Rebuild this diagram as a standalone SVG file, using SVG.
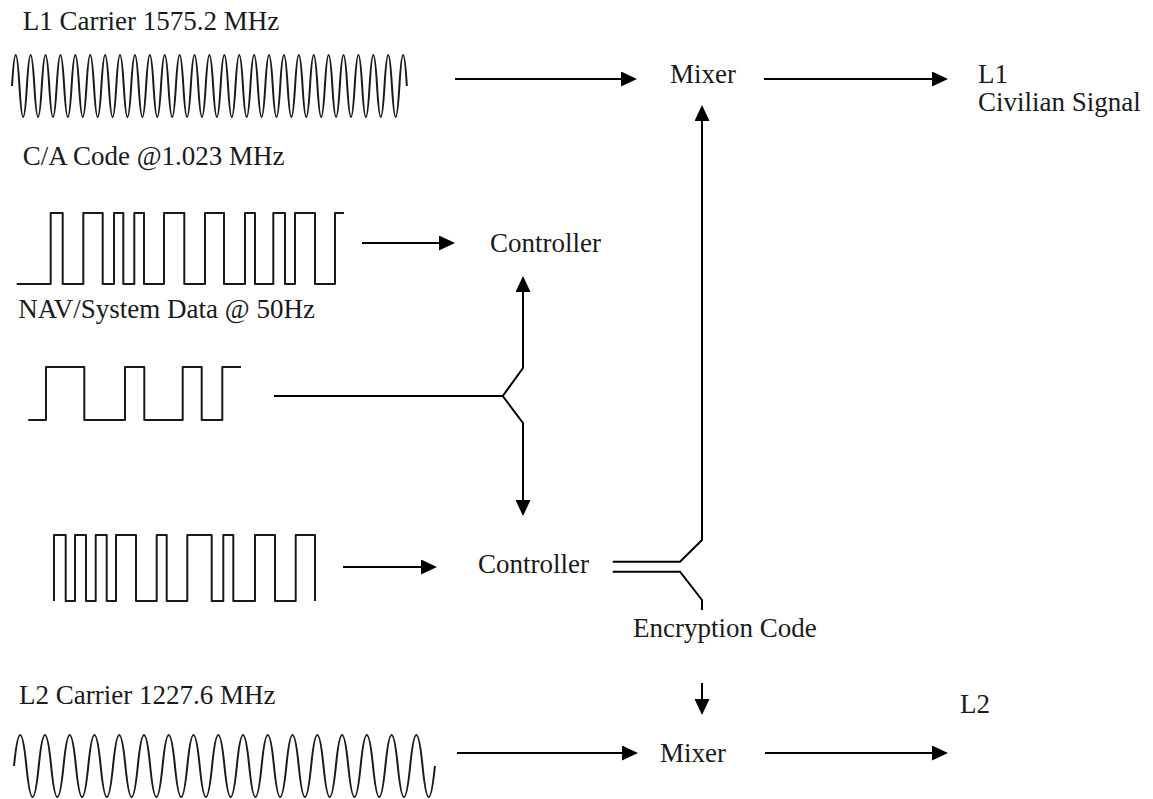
<svg xmlns="http://www.w3.org/2000/svg" width="1153" height="799" viewBox="0 0 1153 799">
<defs>
<style>
text{font-family:'Liberation Serif','Times New Roman','DejaVu Serif',serif;font-size:27px;fill:#1a1a1a}
.w{fill:none;stroke:#1a1a1a;stroke-width:2;stroke-linejoin:round}
.c{fill:none;stroke:#000;stroke-width:2}
.a{marker-end:url(#ah)}
</style>
<marker id="ah" markerUnits="userSpaceOnUse" markerWidth="17" markerHeight="16" refX="4" refY="7.5" orient="auto">
<path d="M0,0 L16,7.5 L0,15 z" fill="#000"/>
</marker>
</defs>
<rect width="1153" height="799" fill="#fff"/>

<g id="l1carrier" font-family="Liberation Serif, serif">
<text x="22.7" y="30">L1 Carrier 1575.2 MHz</text>
<path class="w" d="M12,86 q3.725,-62 7.45,0 t7.45,0 t7.45,0 t7.45,0 t7.45,0 t7.45,0 t7.45,0 t7.45,0 t7.45,0 t7.45,0 t7.45,0 t7.45,0 t7.45,0 t7.45,0 t7.45,0 t7.45,0 t7.45,0 t7.45,0 t7.45,0 t7.45,0 t7.45,0 t7.45,0 t7.45,0 t7.45,0 t7.45,0 t7.45,0 t7.45,0 t7.45,0 t7.45,0 t7.45,0 t7.45,0 t7.45,0 t7.45,0 t7.45,0 t7.45,0 t7.45,0 t7.45,0 t7.45,0 t7.45,0 t7.45,0 t7.45,0 t7.45,0 t7.45,0 t7.45,0 t7.45,0 t7.45,0 t7.45,0 t7.45,0 t7.45,0 t7.45,0 t7.45,0 t7.45,0 t7.45,0"/>
</g>

<g id="cacode">
<text x="22.7" y="165">C/A Code @1.023 MHz</text>
<path class="w" d="M16.7,284 H50.7 V213 H62.7 V284 H83.3 V213 H102.7 V284 H114 V213 H123.3 V284 H134.3 V213 H144 V284 H164 V213 H184.3 V284 H205 V213 H224 V284 H245 V213 H255 V284 H273.3 V213 H285 V284 H295 V213 H315 V284 H335 V213 H344"/>
</g>

<g id="navdata">
<text x="18.3" y="318">NAV/System Data @ 50Hz</text>
<path class="w" d="M28.3,420 H46 V367 H84.3 V420 H125 V367 H144.3 V420 H182.7 V367 H201.7 V420 H222.3 V367 H241"/>
</g>

<g id="pcode">
<path class="w" d="M54,601 V535 H65.7 V601 H75 V535 H86 V601 H95.7 V535 H106.7 V601 H116 V535 H136 V601 H156.7 V535 H166.7 V601 H187.3 V535 H211.7 V601 H223.3 V535 H233.3 V601 H255 V535 H275 V601 H295.7 V535 H315 V601"/>
</g>

<g id="l2carrier">
<text x="19" y="704">L2 Carrier 1227.6 MHz</text>
<path class="w" d="M14,766 q6.19,-62 12.38,0 t12.38,0 t12.38,0 t12.38,0 t12.38,0 t12.38,0 t12.38,0 t12.38,0 t12.38,0 t12.38,0 t12.38,0 t12.38,0 t12.38,0 t12.38,0 t12.38,0 t12.38,0 t12.38,0 t12.38,0 t12.38,0 t12.38,0 t12.38,0 t12.38,0 t12.38,0 t12.38,0 t12.38,0 t12.38,0 t12.38,0 t12.38,0 t12.38,0 t12.38,0 t12.38,0 t12.38,0 t12.38,0 t12.38,0"/>
</g>

<g id="mixer1"><text x="670" y="83">Mixer</text></g>
<g id="l1out"><text x="978" y="83">L1</text><text x="978" y="111">Civilian Signal</text></g>
<g id="controller1"><text x="490" y="252">Controller</text></g>
<g id="controller2"><text x="478" y="573">Controller</text></g>
<g id="encryption"><text x="633" y="637">Encryption Code</text></g>
<g id="mixer2"><text x="660" y="762">Mixer</text></g>
<g id="l2out"><text x="960" y="713">L2</text></g>

<g id="connectors">
<path class="c a" d="M455,79 H625"/>
<path class="c a" d="M764,79 H936"/>
<path class="c a" d="M612.7,561.7 H680 L702,540 V117"/>
<path class="c" d="M612.7,571.7 H680 L702,600 V610"/>
<path class="c a" d="M362,243 H443"/>
<path class="c" d="M274,396 H502.7"/>
<path class="c a" d="M502.7,396 L523,368 V288"/>
<path class="c a" d="M502.7,396 L523,423 V504"/>
<path class="c a" d="M343,567 H425"/>
<path class="c a" d="M702,683 V703"/>
<path class="c a" d="M457,753 H626"/>
<path class="c a" d="M765,753 H936"/>
</g>
</svg>
